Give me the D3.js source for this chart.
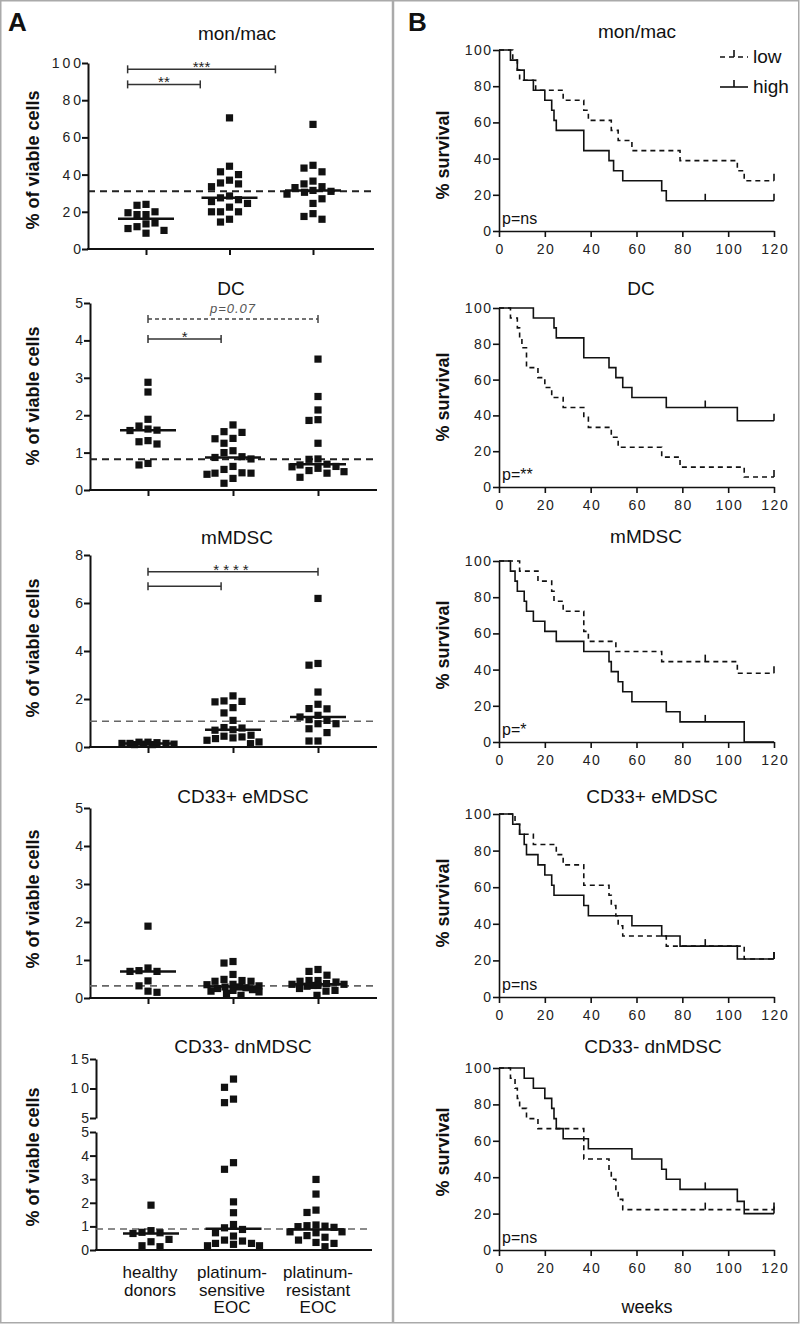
<!DOCTYPE html>
<html><head><meta charset="utf-8">
<script src="https://cdn.jsdelivr.net/npm/d3@7"></script>
<style>
body{margin:0;background:#fff;}
svg text{font-family:"Liberation Sans", Arial, sans-serif;}
</style></head><body>
<svg id="fig" width="800" height="1325"></svg>
<script>
// ---------------- DATA ----------------
const categories = ["healthy donors", "platinum-sensitive EOC", "platinum-resistant EOC"];
const categoryLines = [["healthy", "donors"], ["platinum-", "sensitive", "EOC"], ["platinum-", "resistant", "EOC"]];
const panelTitles = ["mon/mac", "DC", "mMDSC", "CD33+ eMDSC", "CD33- dnMDSC"];

// Panel A: % of viable cells
const monmacHealthy = [24, 20, 18.5, 18.5, 19.5, 23.5, 13.5, 11, 8.5, 10, 12, 14];
const monmacSensitive = [70.5, 41.5, 40, 44.5, 35.5, 33.5, 35, 37, 28.5, 26.5, 24.5, 22.5, 25.5, 27.5, 20, 20, 14.5, 16, 20];
const monmacResistant = [67, 43.5, 41.5, 45, 36.5, 33.5, 31.5, 31, 29.5, 35, 33, 30.5, 27, 24.5, 19, 16, 17.5];
const dcHealthy = [2.88, 2.62, 1.89, 1.63, 1.59, 1.6, 1.71, 1.29, 1.23, 1.32, 0.67, 0.71];
const dcSensitive = [1.54, 1.56, 1.74, 1.37, 1.25, 1.38, 1.05, 1.0, 0.87, 0.89, 0.83, 0.45, 0.42, 0.63, 0.55, 0.45, 0.46, 0.18, 0.31];
const dcResistant = [3.5, 2.5, 2.14, 1.88, 1.86, 1.25, 0.83, 0.69, 0.67, 0.82, 0.63, 0.52, 0.45, 0.34, 0.49, 0.58, 0.62];
const mmdscHealthy = [0.2, 0.15, 0.15, 0.12, 0.1, 0.12, 0.15, 0.18, 0.2, 0.1];
const mmdscSensitive = [1.9, 1.88, 1.92, 2.13, 1.42, 1.64, 0.81, 1.11, 0.72, 0.7, 0.79, 0.38, 0.35, 0.42, 0.28, 0.45, 0.49, 0.14, 0.21];
const mmdscResistant = [6.19, 3.48, 3.41, 2.29, 1.78, 1.6, 1.59, 1.25, 1.11, 1.32, 1.14, 0.97, 0.97, 0.6, 0.76, 0.25, 0.25];
const emdscHealthy = [1.89, 0.72, 0.7, 0.79, 0.7, 0.45, 0.32, 0.18, 0.15];
const emdscSensitive = [0.92, 0.96, 0.62, 0.49, 0.44, 0.44, 0.46, 0.35, 0.29, 0.32, 0.36, 0.25, 0.18, 0.16, 0.22, 0.2, 0.07, 0.29, 0.12, 0.27];
const emdscResistant = [0.75, 0.7, 0.6, 0.46, 0.44, 0.42, 0.46, 0.36, 0.33, 0.33, 0.36, 0.38, 0.31, 0.25, 0.18, 0.2, 0.07];
const dnmdscHealthy = [1.9, 0.82, 0.73, 0.7, 0.75, 0.45, 0.35, 0.14, 0.18];
const dnmdscSensitive = [11.6, 10.2, 7.6, 8.2, 3.7, 3.42, 2.04, 1.58, 1.08, 0.87, 0.94, 0.73, 0.59, 0.38, 0.28, 0.18, 0.24, 0.28, 0.42, 0.18];
const dnmdscResistant = [2.99, 2.37, 1.69, 1.59, 1.06, 1.03, 0.96, 1.01, 0.99, 0.77, 0.73, 0.77, 0.61, 0.54, 0.32, 0.14, 0.28, 0.42];
const cutoffs = [31, 0.82, 1.07, 0.32, 0.89];

const monmacTicks = [0, 20, 40, 60, 80, 100];
const dcTicks = [0, 1, 2, 3, 4, 5];
const mmdscTicks = [0, 2, 4, 6, 8];
const emdscTicks = [0, 1, 2, 3, 4, 5];
const dnmdscTicksLow = [0, 1, 2, 3, 4, 5];
const dnmdscTicksHigh = [5, 10, 15];

// significance brackets (x in category index units, y in data units)
const monmacBrackets = [
  {from: -0.22, to: 0.65, value: 88.5, label: "**"},
  {from: -0.22, to: 1.55, value: 96.6, label: "***"}
];
const dcBrackets = [
  {from: 0, to: 0.86, value: 4.04, label: "*"},
  {from: 0, to: 2, value: 4.57, label: "p=0.07", dashed: true}
];
const mmdscBrackets = [
  {from: 0, to: 0.86, value: 6.7, label: ""},
  {from: 0, to: 2, value: 7.3, label: "****"}
];

// Panel B: Kaplan-Meier [week, % survival] steps
const weekTicks = [0, 20, 40, 60, 80, 100, 120];
const survivalTicks = [0, 20, 40, 60, 80, 100];
const legendLabels = ["low", "high"];
const pLabels = ["p=ns", "p=**", "p=*", "p=ns", "p=ns"];

const kmMonmacLow = [[6,94.4],[8,88.9],[9,83.3],[16,77.8],[28,72.2],[37,66.7],[39,61.1],[49,55.6],[52,50],[58,44.4],[79,38.9],[104,33.3],[107,27.8]];
const kmMonmacHigh = [[5,94.4],[8,88.9],[11,83.3],[15,77.8],[20,72.2],[23,66.7],[24,61.1],[25,55.6],[37,44.4],[48,38.9],[50,33.3],[54,27.8],[71,22.2],[73,16.7]];
const kmDcLow = [[5,94.4],[8,88.9],[9,83.3],[10,77.8],[12,66.7],[17,61.1],[20,55.6],[23,50],[28,44.4],[37,38.9],[39,33.3],[49,27.8],[52,22.2],[71,16.7],[79,11.1],[107,5.6]];
const kmDcHigh = [[15,94.4],[24,88.9],[25,83.3],[37,72.2],[48,66.7],[51,61.1],[54,55.6],[58,50],[73,44.4],[104,37]];
const kmMmdscLow = [[9,94.4],[17,88.9],[23,83.3],[24,77.8],[28,72.2],[37,61.1],[39,55.6],[51,50],[71,44.4],[104,38]];
const kmMmdscHigh = [[5,94.4],[7,88.9],[8,83.3],[11,77.8],[12,72.2],[15,66.7],[20,61.1],[25,55.6],[37,50],[48,44.4],[49,38.9],[52,33.3],[54,27.8],[58,22.2],[73,16.7],[79,11.1],[107,0]];
const kmEmdscLow = [[7,94.4],[9,88.9],[15,83.3],[25,77.8],[28,72.2],[37,61.1],[48,55.6],[49,50],[51,44.4],[52,38.9],[54,33.3],[73,27.8],[107,20.8]];
const kmEmdscHigh = [[6,94.4],[9,88.9],[11,83.3],[12,77.8],[17,72.2],[20,66.7],[23,61.1],[24,55.6],[37,50],[39,44.4],[58,38.9],[71,33.3],[79,27.8],[104,20.8]];
const kmDnmdscLow = [[5,94.4],[7,88.9],[8,83.3],[9,77.8],[12,72.2],[17,66.7],[37,50],[48,44.4],[49,38.9],[51,33.3],[52,27.8],[54,22.2]];
const kmDnmdscHigh = [[11,94.4],[15,88.9],[20,83.3],[23,77.8],[24,72.2],[25,66.7],[28,61.1],[39,55.6],[58,50],[71,44.4],[73,38.9],[79,33.3],[104,26.7],[107,20]];
const censorMonmacLow = [120], censorMonmacHigh = [90, 120];
const censorDcLow = [120], censorDcHigh = [90, 120];
const censorMmdscLow = [90, 120], censorMmdscHigh = [90];
const censorEmdscLow = [120], censorEmdscHigh = [90, 120];
const censorDnmdscLow = [90, 120], censorDnmdscHigh = [90, 120];

// ---------------- DRAWING ----------------
const svg = d3.select("#fig");
const INK = "#111";
svg.append("rect").attr("x", 0.75).attr("y", 0.75).attr("width", 798).attr("height", 1322)
  .attr("fill", "none").attr("stroke", "#aaa").attr("stroke-width", 1.5);
svg.append("line").attr("x1", 393).attr("x2", 393).attr("y1", 0).attr("y2", 1323)
  .attr("stroke", "#aaa").attr("stroke-width", 2.5);
svg.append("text").attr("x", 8).attr("y", 31).attr("font-size", 26).attr("font-weight", "bold").attr("fill", INK).text("A");
svg.append("text").attr("x", 408).attr("y", 31).attr("font-size", 26).attr("font-weight", "bold").attr("fill", INK).text("B");

const intFmt = d3.format("d");

function styleAxis(g, w, fs, ls) {
  g.attr("font-family", null).attr("font-size", null);
  g.selectAll("path.domain").attr("stroke", INK).attr("stroke-width", w);
  g.selectAll(".tick line").attr("stroke", INK).attr("stroke-width", w);
  g.selectAll(".tick text").attr("font-size", fs).attr("fill", "#222").attr("letter-spacing", ls);
}

// beeswarm placement: smallest offset with enough clearance, else best available inside cap
function dodge(values, yFn, clear, cap) {
  const pts = values.map(v => ({v, y: yFn(v)})).sort((a, b) => a.y - b.y);
  const placed = [];
  const cands = [];
  for (let k = 0; k <= cap * 4; k++) cands.push((k % 2 === 1 ? -1 : 1) * Math.ceil(k / 2) * 0.5);
  pts.forEach(p => {
    let best = 0, bestD = -1, chosen = null;
    for (const off of cands) {
      let dmin = Infinity;
      placed.forEach(q => {
        const d = Math.max(Math.abs(q.dx - off), Math.abs(q.y - p.y));
        if (d < dmin) dmin = d;
      });
      if (dmin >= clear) { chosen = off; break; }
      if (dmin > bestD + 0.01) { bestD = dmin; best = off; }
    }
    p.dx = chosen !== null ? chosen : best;
    placed.push(p);
  });
  return placed;
}

// ---- Panel A ----
const scatterSets = [
  {groups: [monmacHealthy, monmacSensitive, monmacResistant], domain: [0, 100], ticks: monmacTicks, brackets: monmacBrackets},
  {groups: [dcHealthy, dcSensitive, dcResistant], domain: [0, 5], ticks: dcTicks, brackets: dcBrackets},
  {groups: [mmdscHealthy, mmdscSensitive, mmdscResistant], domain: [0, 8], ticks: mmdscTicks, brackets: mmdscBrackets},
  {groups: [emdscHealthy, emdscSensitive, emdscResistant], domain: [0, 5], ticks: emdscTicks, brackets: []},
  {groups: [dnmdscHealthy, dnmdscSensitive, dnmdscResistant], domain: [0, 5], ticks: dnmdscTicksLow, brackets: []}
];
const layoutA = [
  {left: 88, right: 374, c0: 146, c2: 313, y0: 249, y1: 63, titleX: 237, titleY: 40, labY: 160, xticks: true, cutColor: "#222", cutW: 2},
  {left: 90, right: 377, c0: 148, c2: 318, y0: 490, y1: 303, titleX: 231, titleY: 295, labY: 396, xticks: true, cutColor: "#222", cutW: 2},
  {left: 90, right: 377, c0: 148, c2: 318, y0: 747, y1: 555, titleX: 237, titleY: 544, labY: 648, xticks: true, cutColor: "#666", cutW: 1.6},
  {left: 90, right: 377, c0: 148, c2: 318, y0: 998, y1: 808, titleX: 243, titleY: 803, labY: 899, xticks: true, cutColor: "#666", cutW: 1.6},
  {left: 96, right: 372, c0: 151, c2: 316, y0: 1250, y1: 1132, titleX: 243, titleY: 1053, labY: 1157, xticks: false, cutColor: "#666", cutW: 1.6,
   brk: {y0: 1118, y1: 1059}}
];

scatterSets.forEach((set, i) => {
  const L = layoutA[i];
  const g = svg.append("g");
  const x = d3.scaleLinear().domain([0, 2]).range([L.c0, L.c2]);
  const yLow = d3.scaleLinear().domain(set.domain).range([L.y0, L.y1]);
  let yFn = yLow;
  if (L.brk) {
    const yUp = d3.scaleLinear().domain([5, 15]).range([L.brk.y0, L.brk.y1]);
    yFn = v => v > 5 ? yUp(v) : yLow(v);
    const ga = g.append("g").attr("transform", `translate(${L.left},0)`)
      .call(d3.axisLeft(yUp).tickValues(dnmdscTicksHigh).tickFormat(intFmt).tickSize(6).tickSizeOuter(0).tickPadding(1));
    styleAxis(ga, 2, 14, 3);
    ga.selectAll(".tick text").attr("dx", 3);
  }
  const gy = g.append("g").attr("transform", `translate(${L.left},0)`)
    .call(d3.axisLeft(yLow).tickValues(set.ticks).tickFormat(intFmt).tickSize(6).tickSizeOuter(0).tickPadding(1));
  styleAxis(gy, 2, 14, 3);
  gy.selectAll(".tick text").attr("dx", 3);

  // x axis
  g.append("line").attr("x1", L.left - 1).attr("x2", L.right).attr("y1", L.y0).attr("y2", L.y0)
    .attr("stroke", INK).attr("stroke-width", 2);
  if (L.xticks) {
    const gx = g.append("g").attr("transform", `translate(0,${L.y0})`)
      .call(d3.axisBottom(x).tickValues([0, 1, 2]).tickFormat("").tickSize(6).tickSizeOuter(0));
    styleAxis(gx, 2, 14, 0);
    gx.select("path.domain").remove();
  }

  // title
  g.append("text").attr("x", L.titleX).attr("y", L.titleY).attr("text-anchor", "middle")
    .attr("font-size", 19).attr("fill", INK).text(panelTitles[i]);
  // y label
  g.append("text").attr("transform", `translate(39,${L.labY}) rotate(-90)`).attr("text-anchor", "middle")
    .attr("font-size", 18).attr("font-weight", "bold").attr("fill", INK).text("% of viable cells");

  // cutoff
  g.append("line").attr("x1", L.left).attr("x2", L.right).attr("y1", yFn(cutoffs[i])).attr("y2", yFn(cutoffs[i]))
    .attr("stroke", L.cutColor).attr("stroke-width", L.cutW).attr("stroke-dasharray", "7,5");

  // points
  set.groups.forEach((vals, gi) => {
    const pts = dodge(vals, yFn, 9, 26);
    g.append("g").selectAll("rect").data(pts).join("rect")
      .attr("x", d => x(gi) + d.dx - 3.6).attr("y", d => d.y - 3.6)
      .attr("width", 7.2).attr("height", 7.2).attr("fill", INK);
    const med = d3.median(vals);
    g.append("line").attr("x1", x(gi) - 28).attr("x2", x(gi) + 28).attr("y1", yFn(med)).attr("y2", yFn(med))
      .attr("stroke", INK).attr("stroke-width", 2.5);
  });

  // brackets
  set.brackets.forEach(b => {
    const by = yFn(b.value), x1 = x(b.from), x2 = x(b.to);
    const col = b.dashed ? "#444" : "#333";
    const bg = g.append("g").attr("stroke", col).attr("stroke-width", 1.5);
    bg.append("line").attr("x1", x1).attr("x2", x2).attr("y1", by).attr("y2", by)
      .attr("stroke-dasharray", b.dashed ? "4,3" : null);
    [x1, x2].forEach(xx => bg.append("line").attr("x1", xx).attr("x2", xx).attr("y1", by - 4).attr("y2", by + 4));
    if (b.label) {
      const t = g.append("text").attr("x", (x1 + x2) / 2).attr("text-anchor", "middle").attr("fill", "#222");
      if (b.dashed) {
        t.attr("y", by - 6).attr("font-size", 13).attr("font-style", "italic").attr("fill", "#555")
          .attr("letter-spacing", 1).text(b.label);
      } else {
        t.attr("y", by + 3).attr("font-size", 15).attr("letter-spacing", b.label.length > 3 ? 4 : 0).text(b.label);
      }
    }
  });

  if (i === 4) {
    categoryLines.forEach((lines, gi) => {
      const cx = [150, 232, 318][gi];
      lines.forEach((ln, li) => {
        g.append("text").attr("x", cx).attr("y", 1278 + li * 17.5).attr("text-anchor", "middle")
          .attr("font-size", 17).attr("fill", INK).text(ln);
      });
    });
  }
});

// ---- Panel B ----
const kmSets = [
  {low: kmMonmacLow, high: kmMonmacHigh, cLow: censorMonmacLow, cHigh: censorMonmacHigh},
  {low: kmDcLow, high: kmDcHigh, cLow: censorDcLow, cHigh: censorDcHigh},
  {low: kmMmdscLow, high: kmMmdscHigh, cLow: censorMmdscLow, cHigh: censorMmdscHigh},
  {low: kmEmdscLow, high: kmEmdscHigh, cLow: censorEmdscLow, cHigh: censorEmdscHigh},
  {low: kmDnmdscLow, high: kmDnmdscHigh, cLow: censorDnmdscLow, cHigh: censorDnmdscHigh}
];
const layoutB = [
  {y0: 231, y1: 50, titleX: 637, titleY: 38, labY: 155},
  {y0: 487, y1: 308, titleX: 641, titleY: 295, labY: 397},
  {y0: 742, y1: 561, titleX: 646, titleY: 543, labY: 645},
  {y0: 997, y1: 814, titleX: 652, titleY: 803, labY: 903},
  {y0: 1250, y1: 1068, titleX: 653, titleY: 1053, labY: 1152}
];

function survAt(steps, t) {
  let s = 100;
  steps.forEach(d => { if (d[0] <= t) s = d[1]; });
  return s;
}

kmSets.forEach((set, i) => {
  const L = layoutB[i];
  const g = svg.append("g");
  const x = d3.scaleLinear().domain([0, 120]).range([499, 774]);
  const y = d3.scaleLinear().domain([0, 100]).range([L.y0, L.y1]);
  const gy = g.append("g").attr("transform", "translate(499,0)")
    .call(d3.axisLeft(y).tickValues(survivalTicks).tickFormat(intFmt).tickSize(6).tickSizeOuter(0).tickPadding(2));
  styleAxis(gy, 1.6, 14, 1.5);
  gy.selectAll(".tick text").attr("dx", 1.5);
  const gx = g.append("g").attr("transform", `translate(0,${L.y0})`)
    .call(d3.axisBottom(x).tickValues(weekTicks).tickFormat(intFmt).tickSize(6).tickSizeOuter(0).tickPadding(7));
  styleAxis(gx, 1.6, 14, 1.5);
  gx.selectAll(".tick text").attr("dx", 0.75);

  g.append("text").attr("x", L.titleX).attr("y", L.titleY).attr("text-anchor", "middle")
    .attr("font-size", 19).attr("fill", INK).text(panelTitles[i]);
  g.append("text").attr("transform", `translate(449,${L.labY}) rotate(-90)`).attr("text-anchor", "middle")
    .attr("font-size", 18).attr("font-weight", "bold").attr("fill", INK).text("% survival");
  g.append("text").attr("x", 502).attr("y", L.y0 - 7).attr("font-size", 16).attr("fill", INK).text(pLabels[i]);

  const line = d3.line().x(d => x(d[0])).y(d => y(d[1])).curve(d3.curveStepAfter);
  [["low", "cLow", "5,4"], ["high", "cHigh", null]].forEach(([k, ck, dash]) => {
    const steps = set[k];
    const pts = [[0, 100], ...steps, [120, steps[steps.length - 1][1]]];
    g.append("path").attr("d", line(pts)).attr("fill", "none").attr("stroke", INK)
      .attr("stroke-width", 1.6).attr("stroke-dasharray", dash);
    set[ck].forEach(t => {
      const s = survAt(steps, t);
      g.append("line").attr("x1", x(t)).attr("x2", x(t)).attr("y1", y(s)).attr("y2", y(s) - 7)
        .attr("stroke", INK).attr("stroke-width", 1.6);
    });
  });

  if (i === 0) {
    legendLabels.forEach((lab, li) => {
      const ly = 57 + li * 30;
      g.append("line").attr("x1", 720).attr("x2", 748).attr("y1", ly).attr("y2", ly)
        .attr("stroke", INK).attr("stroke-width", 1.6).attr("stroke-dasharray", li === 0 ? "5,4" : null);
      g.append("line").attr("x1", 734).attr("x2", 734).attr("y1", ly).attr("y2", ly - 7)
        .attr("stroke", INK).attr("stroke-width", 1.6);
      g.append("text").attr("x", 753).attr("y", ly + 6).attr("font-size", 19).attr("fill", INK).text(lab);
    });
  }
  if (i === 4) {
    g.append("text").attr("x", 647).attr("y", 1313).attr("text-anchor", "middle")
      .attr("font-size", 18).attr("fill", INK).text("weeks");
  }
});
</script>
</body></html>
